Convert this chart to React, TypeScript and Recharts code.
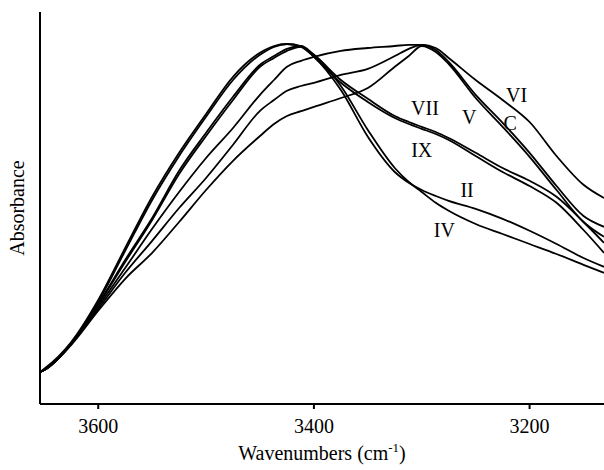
import { Line, LineChart, ReferenceDot, XAxis, YAxis } from "recharts";

// wavenumber grid (cm-1), high to low as on the plot
const wavenumbers = [
  3654, 3650, 3625, 3600, 3575, 3550, 3525, 3500, 3475, 3450, 3437, 3425, 3412, 3400,
  3375, 3350, 3325, 3312, 3300, 3287, 3275, 3250, 3225, 3200, 3175, 3150, 3131,
];

const seriesII = [
  0.08, 0.088, 0.155, 0.26, 0.39, 0.518, 0.628, 0.725, 0.818, 0.878, 0.895, 0.9, 0.893, 0.868,
  0.785, 0.668, 0.58, 0.553, 0.535, 0.52, 0.508, 0.488, 0.463, 0.433, 0.4, 0.365, 0.343,
];
const seriesIV = [
  0.08, 0.085, 0.153, 0.255, 0.383, 0.51, 0.62, 0.718, 0.81, 0.873, 0.893, 0.9, 0.895, 0.873,
  0.795, 0.685, 0.59, 0.555, 0.53, 0.503, 0.483, 0.45, 0.425, 0.4, 0.375, 0.348, 0.328,
];
const seriesVII = [
  0.08, 0.085, 0.15, 0.25, 0.36, 0.465, 0.583, 0.678, 0.768, 0.848, 0.87, 0.888, 0.895, 0.873,
  0.81, 0.763, 0.72, 0.705, 0.693, 0.68, 0.665, 0.628, 0.59, 0.558, 0.518, 0.455, 0.403,
];
const seriesIX = [
  0.08, 0.085, 0.15, 0.248, 0.355, 0.46, 0.575, 0.67, 0.76, 0.843, 0.865, 0.883, 0.893, 0.868,
  0.803, 0.755, 0.715, 0.7, 0.688, 0.675, 0.66, 0.62, 0.58, 0.545, 0.503, 0.435, 0.378,
];
const seriesVI = [
  0.08, 0.085, 0.15, 0.243, 0.34, 0.438, 0.53, 0.615, 0.69, 0.773, 0.81, 0.843, 0.858, 0.868,
  0.883, 0.89, 0.895, 0.898, 0.898, 0.89, 0.865, 0.81, 0.76, 0.705, 0.62, 0.548, 0.515,
];
const seriesC = [
  0.08, 0.085, 0.15, 0.238, 0.328, 0.408, 0.49, 0.565, 0.648, 0.733, 0.76, 0.783, 0.795, 0.803,
  0.823, 0.838, 0.87, 0.888, 0.898, 0.885, 0.855, 0.773, 0.703, 0.628, 0.545, 0.47, 0.443,
];
const seriesV = [
  0.08, 0.085, 0.148, 0.233, 0.313, 0.378, 0.455, 0.535, 0.608, 0.67, 0.7, 0.72, 0.732, 0.743,
  0.765, 0.79, 0.843, 0.87, 0.895, 0.88, 0.85, 0.765, 0.693, 0.618, 0.535, 0.455, 0.418,
];

const xTicks = [3600, 3400, 3200];

// curve labels: text, wavenumber, absorbance
const curveLabels: [string, number, number][] = [
  ["VI", 3212, 0.773],
  ["VII", 3297, 0.74],
  ["V", 3256, 0.718],
  ["C", 3218, 0.703],
  ["IX", 3300, 0.635],
  ["II", 3258, 0.535],
  ["IV", 3279, 0.435],
];

const series = [
  { key: "II", values: seriesII },
  { key: "IV", values: seriesIV },
  { key: "VII", values: seriesVII },
  { key: "IX", values: seriesIX },
  { key: "VI", values: seriesVI },
  { key: "C", values: seriesC },
  { key: "V", values: seriesV },
];

const data = wavenumbers.map((w, i) => {
  const row: Record<string, number> = { w };
  series.forEach((s) => (row[s.key] = s.values[i]));
  return row;
});

const FONT = '"Liberation Serif", "Times New Roman", serif';

function XTick(props: any) {
  const { x, y, payload } = props;
  return (
    <text x={x} y={y + 22} textAnchor="middle" fontFamily={FONT} fontSize={20} fill="#000">
      {payload.value}
    </text>
  );
}

function XTitle(props: any) {
  const vb = props.viewBox || { x: 40, y: 404, width: 564, height: 66 };
  return (
    <text x={vb.x + vb.width / 2} y={460} textAnchor="middle" fontFamily={FONT} fontSize={20} fill="#000">
      Wavenumbers (cm
      <tspan dy={-8} fontSize={13}>
        -1
      </tspan>
      <tspan dy={8}>)</tspan>
    </text>
  );
}

function YTitle(props: any) {
  const vb = props.viewBox || { x: 0, y: 12, width: 40, height: 392 };
  const cy = vb.y + vb.height / 2;
  return (
    <text
      x={17}
      y={cy}
      transform={`rotate(-90, 17, ${cy})`}
      textAnchor="middle"
      dominantBaseline="central"
      fontFamily={FONT}
      fontSize={20}
      fill="#000"
    >
      Absorbance
    </text>
  );
}

export default function App() {
  return (
    <div
      style={{
        position: "absolute",
        left: 0,
        top: 0,
        width: 604,
        height: 470,
        background: "#fff",
        fontFamily: FONT,
      }}
    >
      <LineChart width={604} height={470} data={data} margin={{ top: 12, right: 0, left: 0, bottom: 0 }}>
        <XAxis
          dataKey="w"
          type="number"
          domain={[3131, 3654]}
          reversed
          allowDataOverflow
          ticks={xTicks}
          height={66}
          tickSize={5}
          tickMargin={2}
          axisLine={{ stroke: "#000", strokeWidth: 2 }}
          tickLine={{ stroke: "#000", strokeWidth: 2 }}
          tick={<XTick />}
          label={{ content: (p: any) => <XTitle {...p} /> }}
        />
        <XAxis
          xAxisId="top"
          dataKey="w"
          type="number"
          domain={[3131, 3654]}
          reversed
          orientation="top"
          height={0}
          tick={false}
          tickLine={false}
          axisLine={{ stroke: "#000", strokeWidth: 2 }}
        />
        <YAxis
          type="number"
          domain={[0, 0.98]}
          allowDataOverflow
          width={40}
          tick={false}
          tickLine={false}
          axisLine={{ stroke: "#000", strokeWidth: 2 }}
          label={{ content: (p: any) => <YTitle {...p} /> }}
        />
        {series.map((s) => (
          <Line
            key={s.key}
            dataKey={s.key}
            type="monotone"
            stroke="#000"
            strokeWidth={1.8}
            dot={false}
            activeDot={false}
            isAnimationActive={false}
          />
        ))}
        {curveLabels.map(([text, w, a]) => (
          <ReferenceDot
            key={text}
            x={w}
            y={a}
            r={0}
            fill="none"
            stroke="none"
            label={{ value: text, position: "center", fontSize: 20, fontFamily: FONT, fill: "#000" }}
          />
        ))}
      </LineChart>
    </div>
  );
}
